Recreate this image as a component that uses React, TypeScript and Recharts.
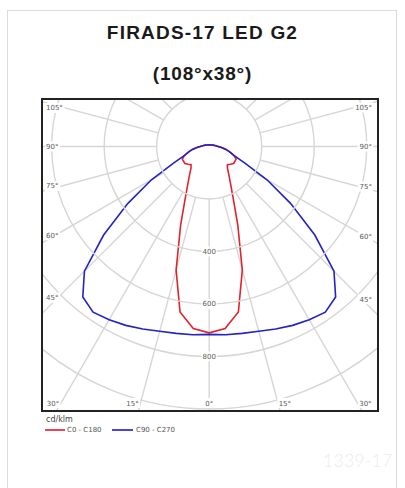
import React from 'react';
import { ComposedChart, Line, XAxis, YAxis, ReferenceLine, ReferenceDot } from 'recharts';

// ---- data (cd/klm vs gamma angle) ----
const gammaAngles = [0, 5, 10, 15, 20, 25, 30, 35, 40, 45, 50, 55, 60, 65, 70, 75, 80, 85, 90, 100, 110, 120, 135, 150, 165, 180];
const c0c180 = [710, 696, 640, 487, 318, 215, 162, 130, 108, 98, 105, 113, 113, 113, 100, 82, 65, 47, 34, 22, 15, 11, 8, 7, 6, 6];
const c90c270 = [716, 720, 723, 729, 740, 752, 762, 771, 749, 672, 525, 378, 254, 150, 100, 82, 65, 47, 34, 22, 15, 11, 8, 7, 6, 6];

// ---- grid / tick labels ----
const gridRadii = [200, 400, 600, 800, 1000, 1200];
const radiusLabels = [400, 600, 800];
const radialAngles = [0, 15, 30, 45, 60, 75, 90, 105, 120, 135, 150, 165, 180, 195, 210, 225, 240, 255, 270, 285, 300, 315, 330, 345];
const sideAngleLabels = [105, 90, 75, 60, 45];
const sideLabelShift = [6, 0, -5, -7, -15];
const bottomAngleLabels = [-30, -15, 0, 15, 30];
const bottomLabelShift = [-4, -6, 0, 5, 4];

const X_DOMAIN: [number, number] = [-633, 639];
const Y_DOMAIN: [number, number] = [-1004, 177];
const PLOT = { left: 43, top: 100, width: 334, height: 310 };
const PX = PLOT.width / (X_DOMAIN[1] - X_DOMAIN[0]);

const RED = '#e1242c';
const BLUE = '#2323c4';
const GRID = '#d6d6d6';
const rad = (d: number) => (d * Math.PI) / 180;

function polarCurve(values: number[]) {
  const left = gammaAngles
    .map((g, i) => ({ x: -values[i] * Math.sin(rad(g)), y: -values[i] * Math.cos(rad(g)) }))
    .reverse();
  const right = gammaAngles.map((g, i) => ({ x: values[i] * Math.sin(rad(g)), y: -values[i] * Math.cos(rad(g)) }));
  return [...left, ...right.slice(1)];
}

const redPts = polarCurve(c0c180);
const bluePts = polarCurve(c90c270);

const TickText = ({ cx, cy, text, anchor, dx = 0, dy = 0 }: any) => {
  const w = text.length * 4.4 + 2;
  const x = cx + dx;
  const y = cy + dy;
  const rx = anchor === 'start' ? x - 1 : anchor === 'end' ? x - w + 1 : x - w / 2;
  return (
    <g>
      <rect x={rx} y={y - 5} width={w} height={10} fill="#fff" />
      <text x={x} y={y + 2.5} textAnchor={anchor} fontSize={7} fontFamily="DejaVu Sans, Verdana, sans-serif" fill="#5a5a5a">
        {text}
      </text>
    </g>
  );
};

export default function App() {
  return (
    <div style={{ position: 'absolute', left: 0, top: 0, width: 405, height: 488, background: '#fff', overflow: 'hidden' }}>
      <div style={{ position: 'absolute', left: 7, top: 10, width: 390, height: 490, border: '1px solid #dcdcdc', boxSizing: 'border-box' }} />
      <div style={{ position: 'absolute', left: 0, width: 405, top: 22, textAlign: 'center', fontFamily: '"Liberation Sans", Arial, sans-serif', fontWeight: 700, fontSize: 19, lineHeight: '22px', letterSpacing: 1.2, color: '#1a1a1a' }}>
        FIRADS-17 LED G2
      </div>
      <div style={{ position: 'absolute', left: 0, width: 405, top: 63, textAlign: 'center', fontFamily: '"Liberation Sans", Arial, sans-serif', fontWeight: 700, fontSize: 19, lineHeight: '22px', letterSpacing: 0.8, color: '#1a1a1a' }}>
        (108°x38°)
      </div>
      <div style={{ position: 'absolute', left: 0, top: 0 }}>
        <ComposedChart
          width={405}
          height={488}
          margin={{ top: PLOT.top, left: PLOT.left, right: 405 - PLOT.left - PLOT.width, bottom: 488 - PLOT.top - PLOT.height }}
        >
          <XAxis type="number" dataKey="x" domain={X_DOMAIN} allowDataOverflow hide />
          <YAxis type="number" dataKey="y" domain={Y_DOMAIN} allowDataOverflow hide />
          {gridRadii.map((r) => (
            <ReferenceDot key={'c' + r} x={0} y={0} r={r * PX} fill="none" stroke={GRID} strokeWidth={1.4} ifOverflow="hidden" />
          ))}
          {radialAngles.map((a) => (
            <ReferenceLine
              key={'a' + a}
              segment={[
                { x: 200 * Math.sin(rad(a)), y: -200 * Math.cos(rad(a)) },
                { x: 1400 * Math.sin(rad(a)), y: -1400 * Math.cos(rad(a)) },
              ]}
              stroke={GRID}
              strokeWidth={1.4}
              ifOverflow="hidden"
            />
          ))}
          {radiusLabels.map((r) => (
            <ReferenceDot key={'rl' + r} x={0} y={-r} ifOverflow="visible" shape={(p: any) => <TickText cx={p.cx} cy={p.cy} text={String(r)} anchor="middle" />} />
          ))}
          {sideAngleLabels.map((g, i) => {
            const yl = (-X_DOMAIN[0] / Math.sin(rad(g))) * -Math.cos(rad(g));
            const yr = (X_DOMAIN[1] / Math.sin(rad(g))) * -Math.cos(rad(g));
            return (
              <React.Fragment key={'s' + g}>
                <ReferenceDot x={X_DOMAIN[0]} y={yl} ifOverflow="visible" shape={(p: any) => <TickText cx={p.cx} cy={p.cy} dx={3} dy={sideLabelShift[i]} text={g + '°'} anchor="start" />} />
                <ReferenceDot x={X_DOMAIN[1]} y={yr} ifOverflow="visible" shape={(p: any) => <TickText cx={p.cx} cy={p.cy} dx={-5} dy={sideLabelShift[i]} text={g + '°'} anchor="end" />} />
              </React.Fragment>
            );
          })}
          {bottomAngleLabels.map((g, i) => {
            const x = (-Y_DOMAIN[0] / Math.cos(rad(g))) * Math.sin(rad(g));
            return (
              <ReferenceDot key={'b' + g} x={x} y={Y_DOMAIN[0]} ifOverflow="visible" shape={(p: any) => <TickText cx={p.cx} cy={p.cy} dx={bottomLabelShift[i]} dy={-7} text={Math.abs(g) + '°'} anchor="middle" />} />
            );
          })}
          <Line data={redPts} dataKey="y" type="linear" stroke={RED} strokeWidth={1.6} dot={false} activeDot={false} isAnimationActive={false} />
          <Line data={bluePts} dataKey="y" type="linear" stroke={BLUE} strokeWidth={1.6} dot={false} activeDot={false} isAnimationActive={false} />
        </ComposedChart>
      </div>
      <div style={{ position: 'absolute', left: 41, top: 98, width: 338, height: 314, border: '2px solid #222', boxSizing: 'border-box' }} />
      <div style={{ position: 'absolute', left: 46, top: 415, fontFamily: '"DejaVu Sans", Verdana, sans-serif', fontSize: 8, color: '#444', lineHeight: '10px' }}>cd/klm</div>
      <div style={{ position: 'absolute', left: 45, top: 428.5, width: 20, height: 2, background: '#e8455c' }} />
      <div style={{ position: 'absolute', left: 67, top: 425, fontFamily: '"DejaVu Sans", Verdana, sans-serif', fontSize: 7, color: '#555', lineHeight: '10px' }}>C0 - C180</div>
      <div style={{ position: 'absolute', left: 112, top: 428.5, width: 21, height: 2, background: '#4747de' }} />
      <div style={{ position: 'absolute', left: 136, top: 425, fontFamily: '"DejaVu Sans", Verdana, sans-serif', fontSize: 7, color: '#555', lineHeight: '10px' }}>C90 - C270</div>
      <div style={{ position: 'absolute', left: 323, top: 449, fontFamily: 'Lato, sans-serif', fontWeight: 300, fontSize: 18, color: '#ececec', lineHeight: '22px' }}>1339-17</div>
    </div>
  );
}
